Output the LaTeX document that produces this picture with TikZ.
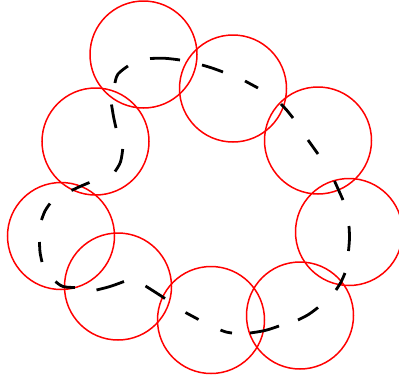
\documentclass[tikz,border=0pt]{standalone}
\begin{document}
\begin{tikzpicture}[x=1pt,y=-1pt,
  ring/.style={draw=red,line width=1.5pt},
  dashbit/.style={draw=black,line width=2.8pt,line cap=butt}]
\useasboundingbox (0,0) rectangle (399,383);
\foreach \n/\cx/\cy in {1/143.5/54.5, 2/233/88.5, 3/318/140.5, 4/349/232, 5/300/315.5, 6/211/320, 7/118/286.5, 8/61/236, 9/95.5/141.5}
  \node[circle,ring,minimum size=107pt,inner sep=0pt] (c\n) at (\cx,\cy) {};
% the dashed closed loop, one dash at a time (irregular dash lengths)
\draw[dashbit] plot[smooth,tension=0.6] coordinates {(115,83) (118,74) (128,66)};
\draw[dashbit] plot[smooth,tension=0.6] coordinates {(150,58.5) (165,58.3) (180,60)};
\draw[dashbit] plot[smooth,tension=0.6] coordinates {(202,65) (212,68) (223,72)};
\draw[dashbit] plot[smooth,tension=0.6] coordinates {(245,81) (258,88)};
\draw[dashbit] plot[smooth,tension=0.6] coordinates {(281,104) (287,110.5) (293,118)};
\draw[dashbit] plot[smooth,tension=0.6] coordinates {(308,140) (318,154)};
\draw[dashbit] plot[smooth,tension=0.6] coordinates {(334.5,181) (339,191) (343,200)};
\draw[dashbit] plot[smooth,tension=0.6] coordinates {(349,226) (349.5,238) (348.5,251)};
\draw[dashbit] plot[smooth,tension=0.6] coordinates {(345,273) (341,282) (336,290)};
\draw[dashbit] plot[smooth,tension=0.6] coordinates {(318,307.5) (308.5,314.5) (298,320)};
\draw[dashbit] plot[smooth,tension=0.6] coordinates {(279,326) (265,330.5) (250,333)};
\draw[dashbit] plot[smooth,tension=0.6] coordinates {(232,333) (226,332) (220.5,330)};
\draw[dashbit] plot[smooth,tension=0.6] coordinates {(198.5,319.5) (185.5,312.5)};
\draw[dashbit] plot[smooth,tension=0.6] coordinates {(165,298.5) (155,292) (145.5,286)};
\draw[dashbit] plot[smooth,tension=0.6] coordinates {(124,281.5) (110,286.5) (96.5,290)};
\draw[dashbit] plot[smooth,tension=0.6] coordinates {(75,287.5) (63,286.5) (55.5,281.5)};
\draw[dashbit] plot[smooth,tension=0.6] coordinates {(42,262) (40,252) (39.5,242)};
\draw[dashbit] plot[smooth,tension=0.6] coordinates {(41.5,220) (45,211) (50,203.5)};
\draw[dashbit] plot[smooth,tension=0.6] coordinates {(71.5,190.5) (80,186.5) (89.5,182.5)};
\draw[dashbit] plot[smooth,tension=0.6] coordinates {(115,171.5) (120.5,162) (122.7,149)};
\draw[dashbit] plot[smooth,tension=0.6] coordinates {(116,128) (113.5,116.5) (111.5,104.5)};
\end{tikzpicture}
\end{document}
